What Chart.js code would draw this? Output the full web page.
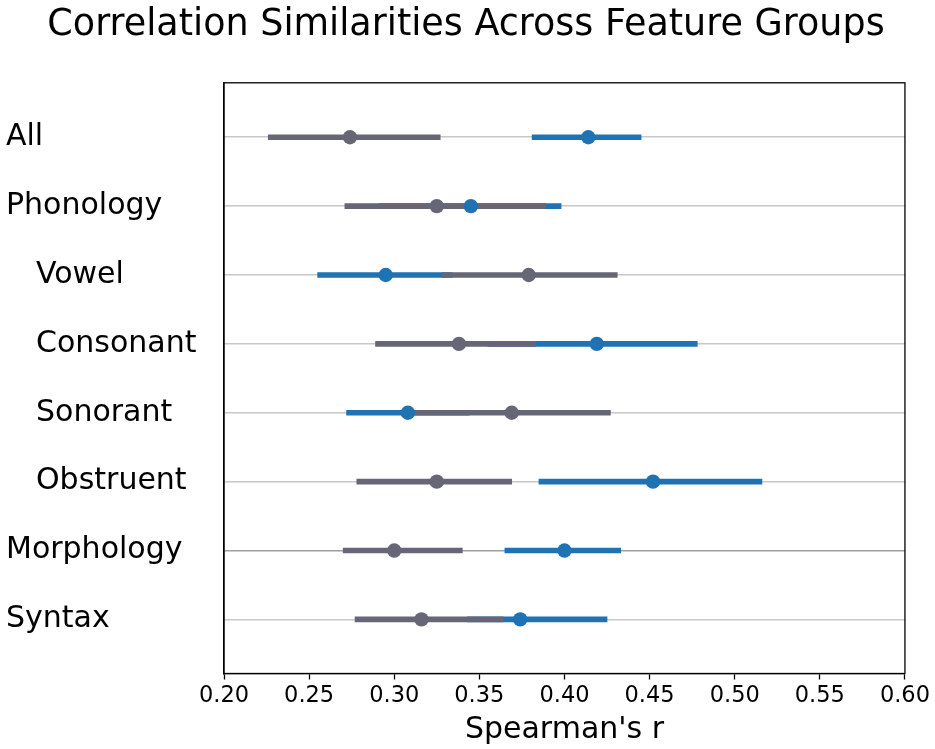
<!DOCTYPE html>
<html>
<head>
<meta charset="utf-8">
<script src="https://cdn.jsdelivr.net/npm/chart.js@4"></script>
<style>
  html, body { margin: 0; padding: 0; background: #fff; }
  #wrap { width: 935px; height: 749px; }
</style>
</head>
<body>
<div id="wrap"><canvas id="c" width="935" height="749"></canvas></div>
<script>
const chartTitle = 'Correlation Similarities Across Feature Groups';
const xTitle = "Spearman's r";
const categories = ['All', 'Phonology', 'Vowel', 'Consonant', 'Sonorant', 'Obstruent', 'Morphology', 'Syntax'];
const indented = [false, false, true, true, true, true, false, false];
const xTicks = [0.20, 0.25, 0.30, 0.35, 0.40, 0.45, 0.50, 0.55, 0.60];

// gray series
const grayMean = [0.274, 0.325, 0.379, 0.338, 0.369, 0.325, 0.300, 0.316];
const grayLow  = [0.226, 0.271, 0.328, 0.289, 0.311, 0.278, 0.270, 0.277];
const grayHigh = [0.327, 0.389, 0.431, 0.383, 0.427, 0.369, 0.340, 0.364];
// blue series
const blueMean = [0.414, 0.345, 0.295, 0.419, 0.308, 0.452, 0.400, 0.374];
const blueLow  = [0.381, 0.291, 0.255, 0.355, 0.272, 0.385, 0.365, 0.343];
const blueHigh = [0.445, 0.398, 0.334, 0.478, 0.344, 0.516, 0.433, 0.425];

const GRAY = '#666677';
const BLUE = '#1f72b4';

const frame = {
  id: 'frame',
  afterLayout(chart) {
    // center the title over the whole figure, as in the reference
    if (chart.titleBlock) { chart.titleBlock.left = 0; chart.titleBlock.right = 932; }
  },
  afterDatasetsDraw(chart) {
    const a = chart.chartArea, ctx = chart.ctx;
    ctx.save();
    ctx.strokeStyle = '#000';
    ctx.lineWidth = 1.3;
    ctx.strokeRect(a.left, a.top, a.right - a.left, a.bottom - a.top);
    ctx.restore();
  }
};

const rangeData = (lo, hi) => categories.map((c, i) => ({ x: [lo[i], hi[i]], y: i }));
const pointData = (m) => categories.map((c, i) => ({ x: m[i], y: i }));

new Chart(document.getElementById('c'), {
  type: 'scatter',
  data: {
    datasets: [
      { type: 'scatter', label: 'gray mean', data: pointData(grayMean), order: 0,
        backgroundColor: GRAY, borderColor: GRAY, pointRadius: 7.2, borderWidth: 0 },
      { type: 'scatter', label: 'blue mean', data: pointData(blueMean), order: 1,
        backgroundColor: BLUE, borderColor: BLUE, pointRadius: 7.2, borderWidth: 0 },
      { type: 'bar', label: 'gray range', indexAxis: 'y', data: rangeData(grayLow, grayHigh), order: 2,
        backgroundColor: GRAY, borderWidth: 0, barThickness: 5, grouped: false },
      { type: 'bar', label: 'blue range', indexAxis: 'y', data: rangeData(blueLow, blueHigh), order: 3,
        backgroundColor: BLUE, borderWidth: 0, barThickness: 5, grouped: false }
    ]
  },
  options: {
    responsive: false,
    animation: false,
    devicePixelRatio: 1,
    layout: { padding: { left: 6, right: 30, top: 0, bottom: 0 } },
    plugins: {
      legend: { display: false },
      tooltip: { enabled: false },
      title: {
        display: true, text: chartTitle, color: '#000',
        font: { family: 'DejaVu Sans', size: 36.5, weight: 'normal' },
        padding: { top: 4, bottom: 35 }
      }
    },
    scales: {
      x: {
        type: 'linear', min: 0.20, max: 0.60,
        afterBuildTicks: (s) => { s.ticks = xTicks.map(v => ({ value: v })); },
        ticks: {
          color: '#000', padding: 5,
          font: { family: 'DejaVu Sans', size: 22.5, lineHeight: 1.0 },
          callback: (v) => Number(v).toFixed(2)
        },
        grid: { drawOnChartArea: false, drawTicks: true, tickLength: 6, tickColor: '#000', tickWidth: 1.3 },
        border: { display: true, color: '#000', width: 1.3 },
        title: {
          display: true, text: xTitle, color: '#000',
          font: { family: 'DejaVu Sans', size: 30, lineHeight: 1.2 },
          padding: { top: 0, bottom: 1 }
        }
      },
      y: {
        type: 'linear', min: -0.79, max: 7.785, reverse: true, offset: false,
        afterBuildTicks: (s) => { s.ticks = categories.map((c, i) => ({ value: i })); },
        afterFit: (s) => { s.width = 218; },
        ticks: {
          color: '#000', crossAlign: 'far', padding: 0,
          font: { family: 'DejaVu Sans', size: 30 },
          callback: (v) => (indented[v] ? '\u2002\u2002' : '') + categories[v]
        },
        grid: {
          offset: false,
          drawTicks: false,
          color: (ctx) => (ctx.tick && ctx.tick.value === 6 ? '#a0a0a0' : '#c8c8c8'),
          lineWidth: 1.5
        },
        border: { display: true, color: '#000', width: 1.3 }
      }
    }
  },
  plugins: [frame]
});
</script>
</body>
</html>
